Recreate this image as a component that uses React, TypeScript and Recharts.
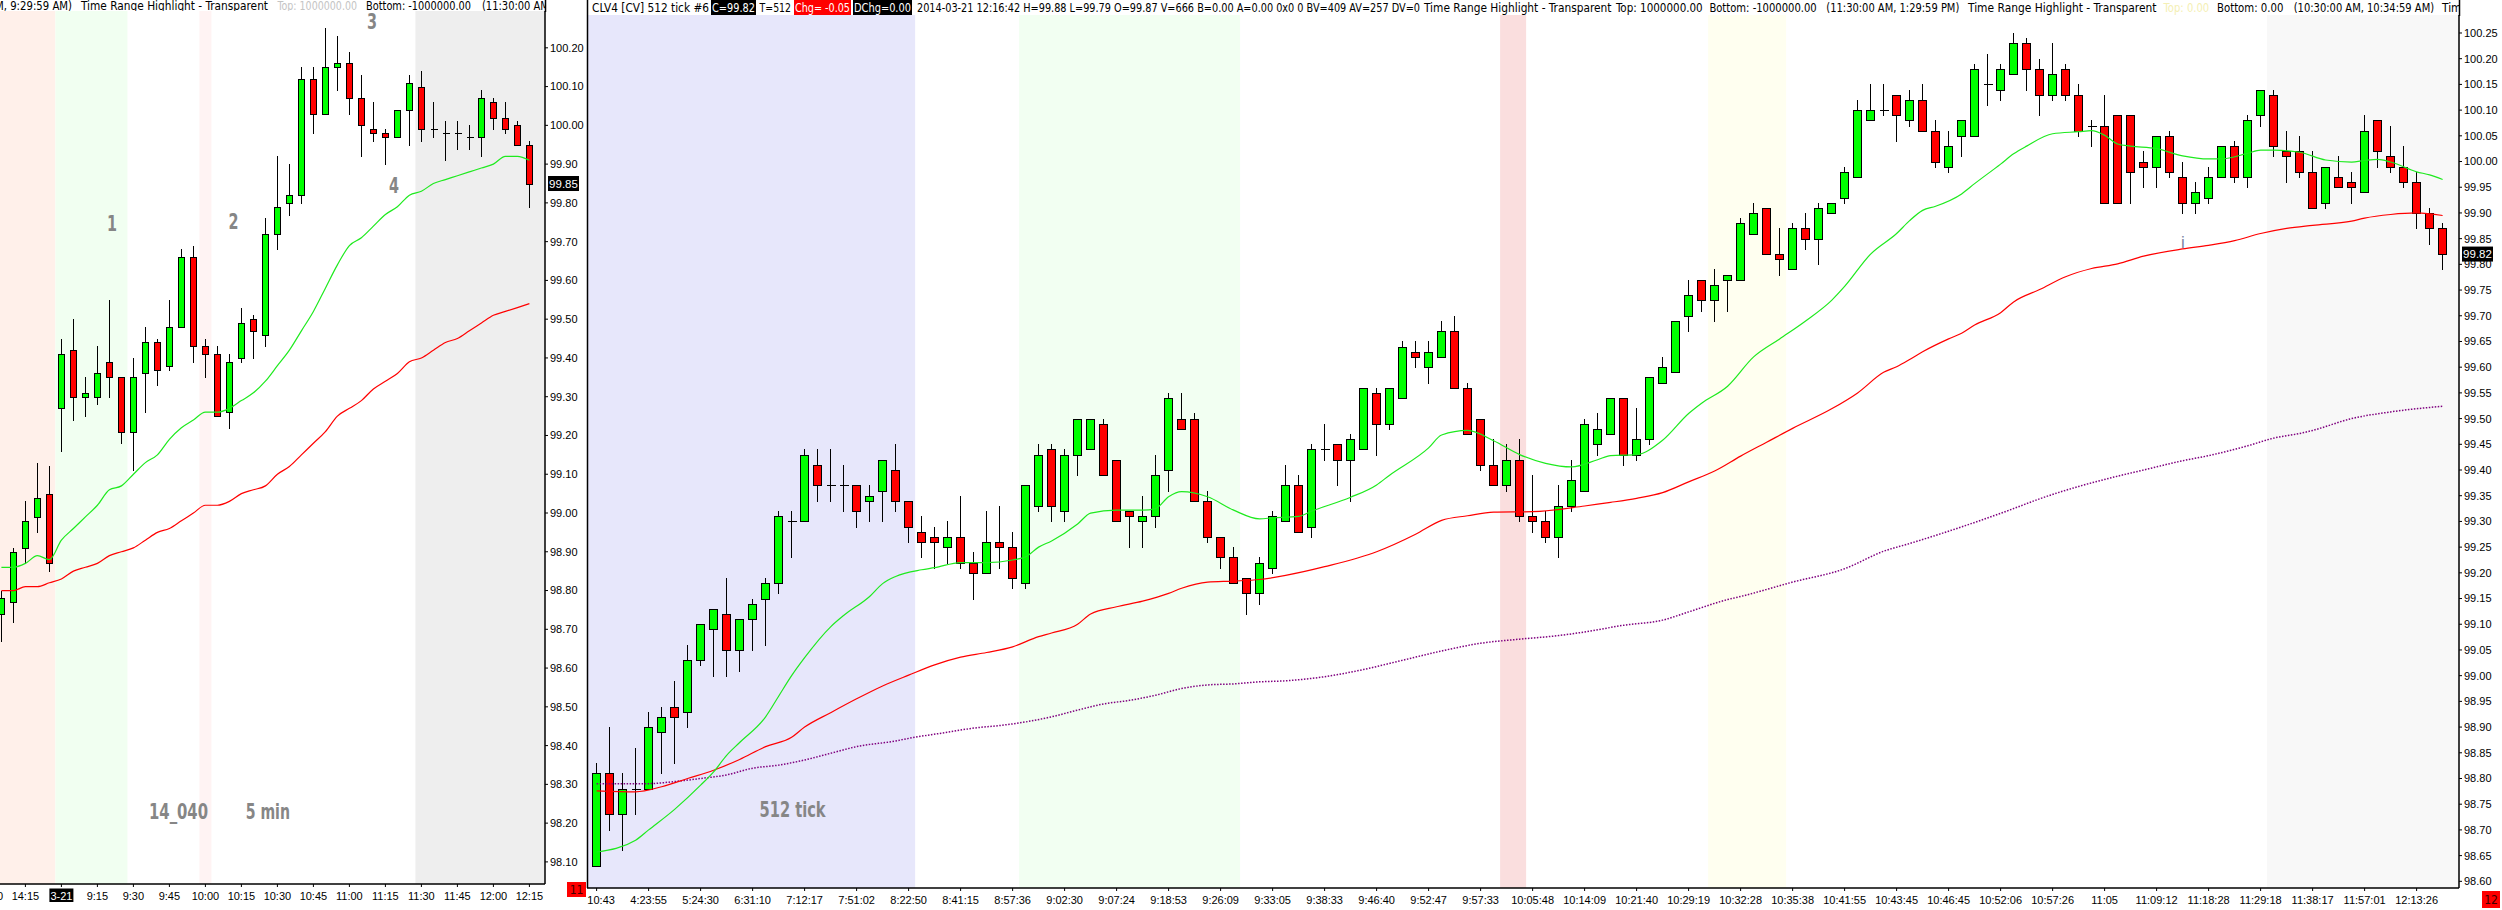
import React from 'react';
import { ComposedChart, Bar, Line, XAxis, YAxis, ReferenceArea, ReferenceLine } from 'recharts';

const FONT = '"Liberation Sans", Arial, sans-serif';
const NARROW = '"Liberation Sans Narrow", "DejaVu Sans Condensed", "Liberation Sans", sans-serif';

// ---------------- Left panel : 14_040, 5 min bars ----------------
const lOpen = [98.74, 98.77, 98.91, 98.99, 99.05, 99.27, 99.42, 99.30, 99.30, 99.39, 99.35, 99.21, 99.36, 99.44, 99.38, 99.48, 99.66, 99.43, 99.41, 99.26, 99.40, 99.50, 99.46, 99.72, 99.80, 99.82, 100.12, 100.03, 100.15, 100.16, 100.07, 99.99, 99.98, 99.97, 100.04, 100.10, 99.99, 99.98, 99.98, 99.97, 99.97, 100.06, 100.02, 100.00, 99.95];
const lHigh = [98.80, 98.91, 99.03, 99.13, 99.12, 99.45, 99.50, 99.35, 99.43, 99.55, 99.35, 99.40, 99.48, 99.45, 99.55, 99.68, 99.69, 99.45, 99.43, 99.41, 99.53, 99.51, 99.76, 99.92, 99.90, 100.15, 100.15, 100.25, 100.23, 100.19, 100.13, 100.06, 99.99, 100.04, 100.13, 100.14, 100.06, 100.01, 100.01, 100.00, 100.09, 100.07, 100.06, 100.01, 99.96];
const lLow = [98.67, 98.72, 98.87, 98.95, 98.85, 99.16, 99.24, 99.25, 99.28, 99.30, 99.18, 99.11, 99.26, 99.33, 99.37, 99.48, 99.39, 99.35, 99.25, 99.22, 99.39, 99.40, 99.43, 99.68, 99.77, 99.80, 99.98, 100.03, 100.09, 100.03, 99.92, 99.96, 99.90, 99.97, 99.95, 99.96, 99.97, 99.91, 99.94, 99.94, 99.92, 99.99, 99.98, 99.95, 99.79];
const lClose = [98.78, 98.90, 98.98, 99.04, 98.87, 99.41, 99.30, 99.31, 99.36, 99.35, 99.21, 99.35, 99.44, 99.37, 99.48, 99.66, 99.43, 99.41, 99.25, 99.39, 99.49, 99.47, 99.72, 99.79, 99.82, 100.12, 100.03, 100.15, 100.16, 100.07, 100.00, 99.98, 99.97, 100.04, 100.11, 99.99, 99.99, 99.98, 99.98, 99.97, 100.07, 100.02, 99.99, 99.95, 99.85];
const lFastMA = [98.86, 98.86, 98.87, 98.89, 98.88, 98.93, 98.96, 98.99, 99.02, 99.06, 99.07, 99.10, 99.13, 99.15, 99.19, 99.22, 99.24, 99.26, 99.26, 99.27, 99.29, 99.31, 99.34, 99.38, 99.42, 99.47, 99.52, 99.58, 99.64, 99.69, 99.71, 99.74, 99.77, 99.79, 99.82, 99.83, 99.85, 99.86, 99.87, 99.88, 99.89, 99.90, 99.92, 99.92, 99.91];
const lSlowMA = [98.80, 98.80, 98.81, 98.81, 98.82, 98.83, 98.85, 98.86, 98.87, 98.89, 98.90, 98.91, 98.93, 98.95, 98.96, 98.98, 99.00, 99.02, 99.02, 99.03, 99.05, 99.06, 99.07, 99.10, 99.12, 99.15, 99.18, 99.21, 99.25, 99.27, 99.29, 99.32, 99.34, 99.36, 99.39, 99.40, 99.42, 99.44, 99.45, 99.47, 99.49, 99.51, 99.52, 99.53, 99.54];
const lTickIdx = [2, 5, 8, 11, 14, 17, 20, 23, 26, 29, 32, 35, 38, 41, 44];
const lTickLabels = ['14:15', '3-21', '9:15', '9:30', '9:45', '10:00', '10:15', '10:30', '10:45', '11:00', '11:15', '11:30', '11:45', '12:00', '12:15'];
const lPriceTicks = [98.1, 98.2, 98.3, 98.4, 98.5, 98.6, 98.7, 98.8, 98.9, 99.0, 99.1, 99.2, 99.3, 99.4, 99.5, 99.6, 99.7, 99.8, 99.9, 100.0, 100.1, 100.2];
const lBandRanges = [[-0.117, 4.5], [4.5, 10.5], [16.5, 17.5], [34.5, 45.3]];
const lXDomain = [-0.117, 45.3];
const lYDomain = [98.043, 100.295];
const lLast = 99.85;

// ---------------- Right panel : CLV4 512 tick ----------------
const rOpen = [
  98.63, 98.81, 98.73, 98.78, 98.78, 98.89, 98.94, 98.93, 99.03, 99.09,
  99.12, 99.05, 99.11, 99.15, 99.18, 99.30, 99.30, 99.41, 99.37, 99.37,
  99.37, 99.34, 99.36, 99.40, 99.34, 99.28, 99.27, 99.25, 99.27, 99.22,
  99.20, 99.26, 99.25, 99.18, 99.33, 99.44, 99.32, 99.43, 99.44, 99.49,
  99.42, 99.32, 99.30, 99.31, 99.40, 99.50, 99.50, 99.34, 99.27, 99.23,
  99.19, 99.16, 99.21, 99.30, 99.37, 99.29, 99.44, 99.45, 99.42, 99.44,
  99.55, 99.49, 99.54, 99.63, 99.60, 99.62, 99.67, 99.56, 99.50, 99.41,
  99.37, 99.42, 99.31, 99.30, 99.27, 99.33, 99.36, 99.45, 99.47, 99.54,
  99.43, 99.46, 99.57, 99.59, 99.70, 99.77, 99.73, 99.77, 99.77, 99.86,
  99.91, 99.82, 99.79, 99.87, 99.85, 99.90, 99.93, 99.97, 100.08, 100.10,
  100.13, 100.08, 100.12, 100.06, 99.99, 100.05, 100.05, 100.15, 100.14, 100.17,
  100.23, 100.18, 100.13, 100.18, 100.13, 100.07, 100.07, 100.09, 100.09, 100.00,
  99.99, 100.05, 99.97, 99.92, 99.93, 99.97, 100.03, 99.97, 100.09, 100.13,
  100.02, 100.02, 99.98, 99.92, 99.97, 99.96, 99.94, 100.08, 100.01, 99.99,
  99.96, 99.90, 99.87];
const rHigh = [
  98.83, 98.90, 98.81, 98.86, 98.93, 98.94, 98.99, 99.06, 99.10, 99.13,
  99.19, 99.11, 99.15, 99.19, 99.32, 99.32, 99.44, 99.44, 99.44, 99.41,
  99.37, 99.37, 99.42, 99.45, 99.34, 99.31, 99.29, 99.30, 99.35, 99.24,
  99.32, 99.33, 99.28, 99.37, 99.45, 99.45, 99.44, 99.50, 99.50, 99.50,
  99.42, 99.32, 99.35, 99.43, 99.55, 99.55, 99.51, 99.36, 99.27, 99.25,
  99.19, 99.23, 99.32, 99.41, 99.39, 99.45, 99.49, 99.45, 99.47, 99.56,
  99.56, 99.56, 99.65, 99.65, 99.65, 99.69, 99.70, 99.57, 99.50, 99.46,
  99.45, 99.46, 99.39, 99.32, 99.37, 99.42, 99.50, 99.51, 99.54, 99.54,
  99.52, 99.58, 99.62, 99.69, 99.77, 99.77, 99.79, 99.78, 99.89, 99.92,
  99.91, 99.87, 99.88, 99.90, 99.92, 99.92, 99.99, 100.12, 100.15, 100.15,
  100.13, 100.14, 100.15, 100.08, 100.06, 100.08, 100.19, 100.21, 100.19, 100.25,
  100.24, 100.20, 100.23, 100.19, 100.15, 100.08, 100.13, 100.09, 100.09, 100.02,
  100.05, 100.06, 100.00, 99.96, 99.99, 100.03, 100.04, 100.09, 100.14, 100.14,
  100.06, 100.05, 100.02, 99.99, 100.01, 99.98, 100.09, 100.08, 100.07, 100.03,
  99.98, 99.91, 99.88];
const rLow = [
  98.63, 98.70, 98.66, 98.73, 98.78, 98.81, 98.83, 98.90, 99.02, 99.00,
  99.00, 99.01, 99.05, 99.06, 99.16, 99.23, 99.30, 99.34, 99.34, 99.32,
  99.29, 99.30, 99.30, 99.32, 99.26, 99.23, 99.21, 99.22, 99.21, 99.15,
  99.20, 99.21, 99.17, 99.17, 99.32, 99.30, 99.30, 99.39, 99.44, 99.39,
  99.30, 99.25, 99.25, 99.29, 99.36, 99.48, 99.34, 99.26, 99.21, 99.18,
  99.12, 99.14, 99.20, 99.30, 99.28, 99.27, 99.42, 99.37, 99.34, 99.44,
  99.43, 99.48, 99.54, 99.60, 99.57, 99.62, 99.56, 99.47, 99.40, 99.37,
  99.36, 99.30, 99.28, 99.26, 99.23, 99.32, 99.36, 99.43, 99.47, 99.41,
  99.42, 99.45, 99.57, 99.59, 99.67, 99.71, 99.69, 99.71, 99.77, 99.86,
  99.82, 99.78, 99.79, 99.83, 99.80, 99.90, 99.92, 99.97, 100.08, 100.09,
  100.04, 100.07, 100.06, 99.99, 99.98, 100.01, 100.05, 100.11, 100.12, 100.17,
  100.14, 100.09, 100.12, 100.12, 100.05, 100.03, 99.92, 99.92, 99.92, 99.95,
  99.95, 99.97, 99.90, 99.90, 99.92, 99.97, 99.96, 99.95, 100.07, 100.01,
  99.96, 99.97, 99.91, 99.91, 99.95, 99.92, 99.94, 99.99, 99.98, 99.95,
  99.87, 99.84, 99.79];
const rClose = [
  98.81, 98.73, 98.78, 98.78, 98.90, 98.92, 98.92, 99.03, 99.10, 99.13,
  99.05, 99.11, 99.14, 99.18, 99.31, 99.30, 99.43, 99.37, 99.37, 99.37,
  99.32, 99.35, 99.42, 99.34, 99.29, 99.26, 99.26, 99.27, 99.22, 99.20,
  99.26, 99.25, 99.19, 99.37, 99.43, 99.33, 99.43, 99.50, 99.50, 99.39,
  99.30, 99.31, 99.31, 99.39, 99.54, 99.48, 99.34, 99.27, 99.23, 99.18,
  99.16, 99.22, 99.31, 99.37, 99.28, 99.44, 99.44, 99.42, 99.46, 99.56,
  99.49, 99.56, 99.64, 99.62, 99.63, 99.67, 99.56, 99.47, 99.41, 99.37,
  99.42, 99.31, 99.30, 99.27, 99.33, 99.38, 99.49, 99.48, 99.54, 99.43,
  99.46, 99.58, 99.60, 99.69, 99.74, 99.73, 99.76, 99.78, 99.88, 99.90,
  99.82, 99.81, 99.87, 99.85, 99.91, 99.92, 99.98, 100.10, 100.10, 100.10,
  100.09, 100.12, 100.06, 100.00, 100.03, 100.08, 100.18, 100.15, 100.18, 100.23,
  100.18, 100.13, 100.17, 100.13, 100.06, 100.07, 99.92, 99.92, 99.98, 99.99,
  100.05, 99.98, 99.92, 99.94, 99.97, 100.03, 99.97, 100.08, 100.14, 100.03,
  100.01, 99.98, 99.91, 99.99, 99.95, 99.95, 100.06, 100.02, 99.99, 99.96,
  99.90, 99.87, 99.82];
// moving averages read at [bar index, price]
const rFastMA = [
  [0, 98.657], [3, 98.68], [4, 98.70], [6, 98.74], [8, 98.787], [9, 98.813], [10, 98.845], [11, 98.87], [13, 98.92], [14, 98.96],
  [15, 99.0], [16, 99.035], [18, 99.095], [19, 99.117], [21, 99.154], [22, 99.179], [23, 99.193], [25, 99.206], [26, 99.21], [28, 99.22],
  [30, 99.22], [32, 99.225], [33, 99.231], [34, 99.25], [35, 99.262], [37, 99.295], [38, 99.316], [40, 99.322], [42, 99.322], [43, 99.325],
  [44, 99.348], [45, 99.358], [47, 99.348], [49, 99.322], [51, 99.305], [52, 99.307], [54, 99.31], [55, 99.32], [58, 99.347], [60, 99.371],
  [61, 99.39], [64, 99.443], [65, 99.468], [67, 99.477], [69, 99.457], [71, 99.43], [73, 99.413], [75, 99.406], [77, 99.42], [78, 99.428],
  [80, 99.43], [82, 99.458], [84, 99.51], [85, 99.53], [87, 99.563], [89, 99.62], [91, 99.655], [93, 99.69], [95, 99.73], [96, 99.757],
  [98, 99.82], [100, 99.86], [101, 99.885], [102, 99.905], [103, 99.913], [105, 99.937], [106, 99.957], [108, 99.995], [109, 100.015], [110, 100.03],
  [112, 100.054], [114, 100.058], [115, 100.06], [116, 100.051], [117, 100.034], [118, 100.03], [120, 100.025], [122, 100.011], [124, 100.005], [125, 100.005],
  [127, 100.016], [128, 100.022], [129, 100.022], [131, 100.018], [133, 100.003], [135, 99.999], [136, 100.002], [137, 100.004], [138, 99.999], [140, 99.98],
  [141, 99.974], [142, 99.965]];
const rSlowMA = [
  [0, 98.776], [3, 98.774], [5, 98.784], [7, 98.80], [9, 98.816], [11, 98.837], [13, 98.862], [15, 98.88], [16, 98.90], [18, 98.928],
  [20, 98.955], [22, 98.98], [24, 99.001], [26, 99.021], [28, 99.036], [30, 99.045], [32, 99.056], [34, 99.076], [35, 99.083], [37, 99.10],
  [38, 99.12], [40, 99.134], [42, 99.145], [44, 99.16], [45, 99.17], [47, 99.182], [49, 99.184], [51, 99.187], [53, 99.195], [56, 99.212],
  [60, 99.241], [63, 99.275], [65, 99.302], [67, 99.311], [69, 99.318], [72, 99.319], [76, 99.33], [78, 99.337], [80, 99.345], [82, 99.356],
  [84, 99.377], [86, 99.398], [88, 99.427], [90, 99.454], [92, 99.481], [95, 99.519], [97, 99.55], [99, 99.59], [100, 99.601], [101, 99.615],
  [102, 99.63], [104, 99.655], [105, 99.666], [106, 99.682], [108, 99.706], [109, 99.727], [111, 99.751], [113, 99.776], [115, 99.792], [117, 99.801],
  [119, 99.816], [122, 99.83], [124, 99.837], [126, 99.846], [128, 99.86], [130, 99.87], [132, 99.876], [135, 99.884], [136, 99.89], [138, 99.897],
  [140, 99.90], [142, 99.895]];
const rLongMA = [
  [0, 98.79], [4, 98.79], [6, 98.794], [8, 98.80], [10, 98.807], [12, 98.82], [14, 98.826], [16, 98.836], [18, 98.849], [20, 98.862],
  [23, 98.873], [24, 98.878], [27, 98.89], [29, 98.898], [31, 98.903], [33, 98.91], [35, 98.92], [37, 98.933], [39, 98.945], [41, 98.952],
  [43, 98.962], [45, 98.975], [47, 98.982], [49, 98.984], [51, 98.988], [53, 98.99], [56, 98.998], [59, 99.012], [62, 99.03], [65, 99.048],
  [68, 99.063], [71, 99.071], [74, 99.078], [76, 99.085], [79, 99.098], [82, 99.108], [84, 99.124], [87, 99.148], [88, 99.154], [92, 99.182],
  [96, 99.208], [99, 99.242], [101, 99.257], [104, 99.281], [106, 99.298], [109, 99.325], [111, 99.344], [114, 99.368], [117, 99.388], [119, 99.40],
  [122, 99.418], [124, 99.428], [127, 99.447], [129, 99.462], [131, 99.471], [132, 99.477], [135, 99.50], [138, 99.513], [142, 99.524]];
const rTickIdx = [0, 4, 8, 12, 16, 20, 24, 28, 32, 36, 40, 44, 48, 52, 56, 60, 64, 68, 72, 76, 80, 84, 88, 92, 96, 100, 104, 108, 112, 116, 120, 124, 128, 132, 136, 140];
const rTickLabels = ['10:43', '4:23:55', '5:24:30', '6:31:10', '7:12:17', '7:51:02', '8:22:50', '8:41:15', '8:57:36', '9:02:30', '9:07:24', '9:18:53', '9:26:09', '9:33:05', '9:38:33', '9:46:40', '9:52:47', '9:57:33', '10:05:48', '10:14:09', '10:21:40', '10:29:19', '10:32:28', '10:35:38', '10:41:55', '10:43:45', '10:46:45', '10:52:06', '10:57:26', '11:05', '11:09:12', '11:18:28', '11:29:18', '11:38:17', '11:57:01', '12:13:26'];
const rPriceTicks = [98.6, 98.65, 98.7, 98.75, 98.8, 98.85, 98.9, 98.95, 99.0, 99.05, 99.1, 99.15, 99.2, 99.25, 99.3, 99.35, 99.4, 99.45, 99.5, 99.55, 99.6, 99.65, 99.7, 99.75, 99.8, 99.85, 99.9, 99.95, 100.0, 100.05, 100.1, 100.15, 100.2, 100.25];
const rBandRanges = [[-0.74, 24.5], [32.5, 49.5], [69.5, 71.5], [85.5, 91.5], [128.5, 143.26]];
const rXDomain = [-0.74, 143.26];
const rYDomain = [98.587, 100.285];
const rLast = 99.82;

// ---------------- build tables ----------------
const leftData = lOpen.map((o, i) => ({ x: i, o, h: lHigh[i], l: lLow[i], c: lClose[i], fast: lFastMA[i], slow: lSlowMA[i] }));
const toMap = (pairs: number[][]) => new Map(pairs.map(([k, v]) => [k, v] as [number, number]));
const mFast = toMap(rFastMA);
const mSlow = toMap(rSlowMA);
const mLong = toMap(rLongMA);
const rightData = rOpen.map((o, j) => ({
  x: j, o, h: rHigh[j], l: rLow[j], c: rClose[j],
  fast: mFast.has(j) ? mFast.get(j) : null,
  slow: mSlow.has(j) ? mSlow.get(j) : null,
  long: mLong.has(j) ? mLong.get(j) : null,
}));

function makeCandle(bodyW: number) {
  return (props: any) => {
    const { x, y, width, height, payload } = props;
    if (!payload || x == null || y == null || height == null) return <g />;
    const { o, h, l, c } = payload;
    const top = Math.min(y, y + height);
    const span = Math.abs(height);
    const k = h > l ? span / (h - l) : 0;
    const py = (p: number) => top + (h - p) * k;
    const cx = Math.round(x + width / 2) + 0.5;
    const bt = Math.round(py(Math.max(o, c))) + 0.5;
    const bb = Math.round(py(Math.min(o, c))) + 0.5;
    const left = cx - bodyW / 2;
    return (
      <g shapeRendering="crispEdges">
        <line x1={cx} x2={cx} y1={Math.round(top)} y2={Math.round(top + span) + 1} stroke="#000" strokeWidth={1} />
        {c === o ? (
          <line x1={left} x2={left + bodyW + 1} y1={bt} y2={bt} stroke="#000" strokeWidth={1} />
        ) : (
          <rect x={left} y={bt} width={bodyW} height={Math.max(1, bb - bt)} fill={c > o ? '#00FF00' : '#FF0000'} stroke="#000" strokeWidth={1} />
        )}
      </g>
    );
  };
}

const PriceBox = (props: any) => {
  const { viewBox, text } = props;
  if (!viewBox) return null;
  const x = viewBox.x + viewBox.width + 3;
  const y = viewBox.y;
  return (
    <g>
      <rect x={x} y={y - 7.5} width={31} height={15} fill="#000" />
      <text x={x + 15.5} y={y + 4} textAnchor="middle" fontSize={11.5} fontFamily={FONT} fill="#fff">{text}</text>
    </g>
  );
};

const LeftXTick = (props: any) => {
  const { x, y, payload } = props;
  const idx = lTickIdx.indexOf(payload.value);
  const label = idx >= 0 ? lTickLabels[idx] : '';
  const boxed = label === '3-21';
  return (
    <g>
      {boxed && <rect x={x - 12} y={y - 0.5} width={24} height={13.5} fill="#000" />}
      <text x={x} y={y + 10.5} textAnchor="middle" fontSize={11} fontFamily={FONT} fill={boxed ? '#fff' : '#000'}>{label}</text>
    </g>
  );
};

const RightXTick = (props: any) => {
  const { x, y, payload } = props;
  const idx = rTickIdx.indexOf(payload.value);
  const label = idx >= 0 ? rTickLabels[idx] : '';
  // the first label is pushed inside the panel's left border
  const tx = idx === 0 ? x + 4.5 : x;
  return <text x={tx} y={y + 10.5} textAnchor="middle" fontSize={11} fontFamily={FONT} fill="#000">{label}</text>;
};

type PanelProps = {
  data: any[]; width: number; height: number; top: number; xAxisH: number; yAxisW: number;
  xDomain: number[]; yDomain: number[]; xTicks: number[]; yTicks: number[]; bands: number[][];
  bandColors: string[]; bodyW: number; last: number; xTick: any; children?: React.ReactNode;
};

function Panel(p: PanelProps) {
  const margin = { top: p.top, right: 0, bottom: 0, left: 0 };
  return (
    <div style={{ position: 'absolute', left: 0, top: 0, width: p.width, height: p.height }}>
      <div style={{ position: 'absolute', left: 0, top: 0 }}>
        <ComposedChart width={p.width} height={p.height} data={p.data} margin={margin}>
          <XAxis type="number" dataKey="x" domain={p.xDomain as any} allowDataOverflow height={p.xAxisH} tick={false} axisLine={false} tickLine={false} />
          <YAxis type="number" orientation="right" width={p.yAxisW} domain={p.yDomain as any} allowDataOverflow tick={false} axisLine={false} tickLine={false} />
          {p.bands.map(([a, b], k) => (
            <ReferenceArea key={k} x1={a} x2={b} fill={p.bandColors[k]} fillOpacity={1} stroke="none" ifOverflow="hidden" />
          ))}
          <Line dataKey="c" stroke="none" dot={false} isAnimationActive={false} />
        </ComposedChart>
      </div>
      <div style={{ position: 'absolute', left: 0, top: 0 }}>
        <ComposedChart width={p.width} height={p.height} data={p.data} margin={margin}>
          <XAxis type="number" dataKey="x" domain={p.xDomain as any} allowDataOverflow height={p.xAxisH}
            ticks={p.xTicks} interval={0} tick={p.xTick} tickSize={3} tickMargin={2}
            axisLine={{ stroke: '#000', strokeWidth: 1.5 }} tickLine={{ stroke: '#000' }} />
          <YAxis type="number" orientation="right" width={p.yAxisW} domain={p.yDomain as any} allowDataOverflow
            ticks={p.yTicks} interval={0} tickSize={3} tickMargin={2}
            tickFormatter={(v: number) => v.toFixed(2)}
            tick={{ fontSize: 11, fill: '#000', fontFamily: FONT }}
            axisLine={{ stroke: '#000', strokeWidth: 1.5 }} tickLine={{ stroke: '#000' }} />
          {p.children}
          <Bar dataKey={(d: any) => [d.l, d.h]} barSize={p.bodyW} shape={makeCandle(p.bodyW)} isAnimationActive={false} />
          <ReferenceLine y={p.last} stroke="none" ifOverflow="visible" label={<PriceBox text={p.last.toFixed(2)} />} />
        </ComposedChart>
      </div>
    </div>
  );
}

const Seg = ({ x1, x2, y, text, fill = '#000', size = 12 }: any) => (
  <text x={x1} y={y} textLength={x2 - x1} lengthAdjust="spacingAndGlyphs" fontSize={size} fontFamily={NARROW} fill={fill}>{text}</text>
);

const BoxSeg = ({ x1, x2, y, text, bg }: any) => (
  <g>
    <rect x={x1 - 1} y={0} width={x2 - x1 + 2} height={15} fill={bg} />
    <Seg x1={x1} x2={x2} y={y} text={text} fill="#fff" />
  </g>
);

const Big = ({ x1, x2, y, text, size = 21 }: any) => (
  <text x={x1} y={y} textLength={x2 - x1} lengthAdjust="spacingAndGlyphs" fontSize={size} fontWeight="bold" fontFamily={NARROW} fill="#868686">{text}</text>
);

export default function App() {
  return (
    <div style={{ position: 'fixed', left: 0, top: 0, width: 2502, height: 910, background: '#fff', overflow: 'hidden' }}>
      <Panel data={leftData} width={600} height={910} top={11} xAxisH={26} yAxisW={55}
        xDomain={lXDomain} yDomain={lYDomain} xTicks={lTickIdx} yTicks={lPriceTicks}
        bands={lBandRanges} bandColors={['#FFF0EA', '#F1FFF1', '#FFF3F3', '#EEEEEE']}
        bodyW={6} last={lLast} xTick={<LeftXTick />}>
        <Line dataKey="slow" type="monotone" stroke="#FF0000" strokeWidth={1.2} dot={false} isAnimationActive={false} />
        <Line dataKey="fast" type="monotone" stroke="#1EEA1E" strokeWidth={1.2} dot={false} isAnimationActive={false} />
      </Panel>
      <div style={{ position: 'absolute', left: 587, top: 0, width: 1915, height: 910, background: '#fff' }}>
        <Panel data={rightData} width={1915} height={910} top={15} xAxisH={22} yAxisW={43}
          xDomain={rXDomain} yDomain={rYDomain} xTicks={rTickIdx} yTicks={rPriceTicks}
          bands={rBandRanges} bandColors={['#E7E7FB', '#F2FFF2', '#FADEDE', '#FFFFF0', '#F8F8F8']}
          bodyW={8} last={rLast} xTick={<RightXTick />}>
          <Line dataKey="long" type="monotone" connectNulls stroke="#7F007F" strokeWidth={1.5} strokeDasharray="1.5 1.5" dot={false} isAnimationActive={false} />
          <Line dataKey="slow" type="monotone" connectNulls stroke="#FF0000" strokeWidth={1.2} dot={false} isAnimationActive={false} />
          <Line dataKey="fast" type="monotone" connectNulls stroke="#1EEA1E" strokeWidth={1.2} dot={false} isAnimationActive={false} />
        </Panel>
      </div>
      <svg width={2502} height={910} style={{ position: 'absolute', left: 0, top: 0, pointerEvents: 'none' }}>
        <defs>
          <clipPath id="lhClip"><rect x={0} y={0} width={545} height={11} /></clipPath>
          <clipPath id="rhClip"><rect x={588} y={0} width={1871} height={15} /></clipPath>
        </defs>
        {/* panel frame lines */}
        <line x1={545.5} y1={0} x2={545.5} y2={12} stroke="#000" strokeWidth={1.5} />
        <line x1={587.5} y1={0} x2={587.5} y2={888} stroke="#000" strokeWidth={1.5} />
        <line x1={2459.5} y1={0} x2={2459.5} y2={16} stroke="#000" strokeWidth={1.5} />
        {/* left panel: partly hidden 14:00 time label */}
        <text x={-10.6} y={899.5} textAnchor="middle" fontSize={11} fontFamily={FONT} fill="#000">14:00</text>
        {/* left header */}
        <g clipPath="url(#lhClip)">
          <Seg x1={-5} x2={72} y={9.5} text="M, 9:29:59 AM)" size={11.5} />
          <Seg x1={81} x2={268} y={9.5} text="Time Range Highlight - Transparent" size={11.5} />
          <Seg x1={277.5} x2={357} y={9.5} text="Top: 1000000.00" fill="#C4C4C4" size={11.5} />
          <Seg x1={366} x2={471} y={9.5} text="Bottom: -1000000.00" size={11.5} />
          <Seg x1={482} x2={615} y={9.5} text="(11:30:00 AM, 1:29:59 PM)" size={11.5} />
        </g>
        {/* right header */}
        <g clipPath="url(#rhClip)">
          <Seg x1={592} x2={709} y={12} text="CLV4 [CV]  512 tick  #6" />
          <BoxSeg x1={712} x2={755} y={12} text="C=99.82" bg="#000" />
          <Seg x1={759.6} x2={791} y={12} text="T=512" />
          <BoxSeg x1={795} x2={850} y={12} text="Chg= -0.05" bg="#FF0000" />
          <BoxSeg x1={854} x2={911} y={12} text="DChg=0.00" bg="#000" />
          <Seg x1={917} x2={1420} y={12} text="2014-03-21 12:16:42 H=99.88 L=99.79 O=99.87 V=666 B=0.00 A=0.00 0x0 0 BV=409 AV=257 DV=0" />
          <Seg x1={1424} x2={1611.5} y={12} text="Time Range Highlight - Transparent" />
          <Seg x1={1616} x2={1702.7} y={12} text="Top: 1000000.00" />
          <Seg x1={1709.4} x2={1816.7} y={12} text="Bottom: -1000000.00" />
          <Seg x1={1826.3} x2={1959.3} y={12} text="(11:30:00 AM, 1:29:59 PM)" />
          <Seg x1={1968} x2={2156.5} y={12} text="Time Range Highlight - Transparent" />
          <Seg x1={2163.6} x2={2209.2} y={12} text="Top: 0.00" fill="#F4EFB4" />
          <Seg x1={2217} x2={2283.4} y={12} text="Bottom: 0.00" />
          <Seg x1={2293.7} x2={2434.1} y={12} text="(10:30:00 AM, 10:34:59 AM)" />
          <Seg x1={2442} x2={2630} y={12} text="Time Range Highlight - Transparent" />
        </g>
        {/* annotations */}
        <Big x1={107} x2={117} y={231} text="1" />
        <Big x1={228.6} x2={238.6} y={229} text="2" />
        <Big x1={367} x2={377} y={29} text="3" />
        <Big x1={389} x2={399} y={193} text="4" />
        <Big x1={149} x2={208} y={819} text="14_040" />
        <Big x1={245.7} x2={290} y={819} text="5 min" />
        <Big x1={759.5} x2={825.6} y={817} text="512 tick" size={22} />
        <text x={2183} y={248} textAnchor="middle" fontSize={17} fontFamily={FONT} fill="#7A86A6">i</text>
        {/* bar-count boxes */}
        <rect x={567} y={882} width={19} height={15} fill="#FF0000" />
        <text x={576.5} y={894} textAnchor="middle" fontSize={12} fontFamily={NARROW} fill="#400000">11</text>
        <rect x={2482} y={891} width={18} height={17} fill="#FF0000" />
        <text x={2491} y={904} textAnchor="middle" fontSize={12} fontFamily={NARROW} fill="#400000">12</text>
      </svg>
    </div>
  );
}
